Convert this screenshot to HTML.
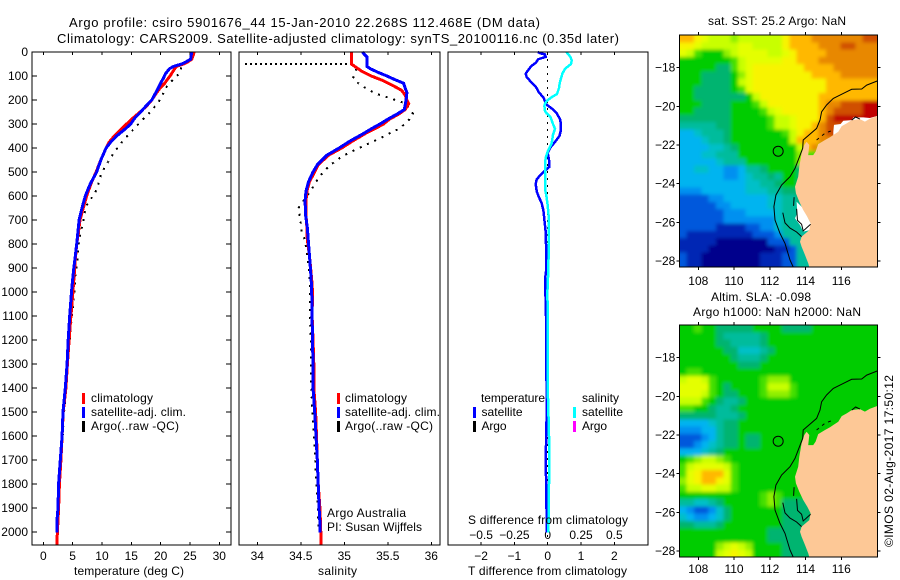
<!DOCTYPE html>
<html>
<head>
<meta charset="utf-8">
<title>Argo profile</title>
<style>
html,body{margin:0;padding:0;background:#fff;width:900px;height:580px;overflow:hidden}
svg{display:block}
text{font-family:"Liberation Sans",sans-serif;font-size:12px;fill:#000}
.crisp{shape-rendering:crispEdges}
</style>
</head>
<body>
<svg id="chart" xmlns="http://www.w3.org/2000/svg" width="900" height="580" viewBox="0 0 900 580">
  <defs>
    <filter id="soften" x="-5%" y="-5%" width="110%" height="110%"><feGaussianBlur stdDeviation="1.8"/></filter>
    <clipPath id="clip-m1"><rect x="679.3" y="35" width="198" height="232"/></clipPath>
    <clipPath id="clip-m2"><rect x="679.3" y="325" width="198" height="232"/></clipPath>
  </defs>
  <rect x="0" y="0" width="900" height="580" fill="#fff"/>

  <text x="69" y="27" textLength="471" lengthAdjust="spacing" style="font-size:13px">Argo profile: csiro 5901676_44 15-Jan-2010 22.268S 112.468E (DM data)</text>
  <text x="57" y="43" textLength="562" lengthAdjust="spacing" style="font-size:13px">Climatology: CARS2009. Satellite-adjusted climatology: synTS_20100116.nc (0.35d later)</text>

  <g id="p1"></g>
  <g id="p2"></g>
  <g id="p3"></g>
  <g id="m1"></g>
  <g id="m2"></g>

  <text x="74" y="575" textLength="110" lengthAdjust="spacing">temperature (deg C)</text>
  <text x="318" y="575" textLength="39" lengthAdjust="spacing">salinity</text>
  <text x="468" y="575" textLength="159" lengthAdjust="spacing">T difference from climatology</text>
  <text x="468" y="524" textLength="160" lengthAdjust="spacing">S difference from climatology</text>

  <g>
    <rect class="crisp" x="82" y="393" width="3" height="11" fill="#f00"/>
    <rect class="crisp" x="82" y="407" width="3" height="11" fill="#00f"/>
    <rect class="crisp" x="82" y="421" width="3" height="11" fill="#000"/>
    <text x="91" y="402" textLength="62" lengthAdjust="spacing">climatology</text>
    <text x="91" y="416" textLength="95" lengthAdjust="spacing">satellite-adj. clim.</text>
    <text x="91" y="430" textLength="88" lengthAdjust="spacing">Argo(..raw -QC)</text>
  </g>
  <g>
    <rect class="crisp" x="337" y="393" width="3" height="11" fill="#f00"/>
    <rect class="crisp" x="337" y="407" width="3" height="11" fill="#00f"/>
    <rect class="crisp" x="337" y="421" width="3" height="11" fill="#000"/>
    <text x="345" y="402" textLength="62" lengthAdjust="spacing">climatology</text>
    <text x="345" y="416" textLength="95" lengthAdjust="spacing">satellite-adj. clim.</text>
    <text x="345" y="430" textLength="88" lengthAdjust="spacing">Argo(..raw -QC)</text>
    <text x="327" y="517" textLength="79" lengthAdjust="spacing">Argo Australia</text>
    <text x="327" y="531" textLength="95" lengthAdjust="spacing">PI: Susan Wijffels</text>
  </g>
  <g>
    <text x="481" y="402" textLength="64" lengthAdjust="spacing">temperature</text>
    <text x="582" y="402" textLength="37" lengthAdjust="spacing">salinity</text>
    <rect class="crisp" x="473" y="407" width="3" height="11" fill="#00f"/>
    <rect class="crisp" x="473" y="421" width="3" height="11" fill="#000"/>
    <rect class="crisp" x="573" y="407" width="3" height="11" fill="#0ff"/>
    <rect class="crisp" x="573" y="421" width="3" height="11" fill="#f0f"/>
    <text x="481.500" y="416" textLength="41" lengthAdjust="spacing">satellite</text>
    <text x="481.500" y="430" textLength="25" lengthAdjust="spacing">Argo</text>
    <text x="582" y="416" textLength="41" lengthAdjust="spacing">satellite</text>
    <text x="582" y="430" textLength="25" lengthAdjust="spacing">Argo</text>
  </g>

  <text x="708" y="25" textLength="138" lengthAdjust="spacing">sat. SST: 25.2 Argo: NaN</text>
  <text x="711" y="301" textLength="100" lengthAdjust="spacing">Altim. SLA: -0.098</text>
  <text x="693" y="316" textLength="168" lengthAdjust="spacing">Argo h1000: NaN h2000: NaN</text>
  <text transform="translate(893,547) rotate(-90)" x="0" y="0" textLength="172" lengthAdjust="spacing">©IMOS 02-Aug-2017 17:50:12</text>
</svg>

<script>
// ---------- profile data ----------
const depthTicks = [0,100,200,300,400,500,600,700,800,900,1000,1100,1200,1300,1400,1500,1600,1700,1800,1900,2000];
const tempTicks = [0,5,10,15,20,25,30];
const salTicks = [34,34.5,35,35.5,36];
const salTickLabels = ['34','34.5','35','35.5','36'];
const tDiffTicks = [-2,-1,0,1,2];
const tDiffLabels = ['\u22122','\u22121','0','1','2'];
const sDiffTicks = [-0.5,-0.25,0,0.25,0.5];
const sDiffLabels = ['\u22120.5','\u22120.25','0','0.25','0.5'];
const lonTicks = [108,110,112,114,116];
const latTicks = [-18,-20,-22,-24,-26,-28];

const climTDepth = [0,10,30,40,50,60,70,100,130,150,170,200,225,250,275,300,325,350,375,400,450,500,550,600,650,700,750,800,850,900,950,1000,1100,1200,1300,1400,1500,1600,1700,1800,1900,2000,2054];
const climT = [25.7,25.6,25.3,24.7,23.9,22.7,22.4,21.6,20.7,19.9,19.3,18.5,17.6,16.5,15.3,14.2,13.1,12.1,11.25,10.7,9.8,9.0,8.1,7.4,6.8,6.25,6.0,5.7,5.5,5.35,5.2,5.05,4.7,4.4,4.1,3.86,3.4,3.2,3.0,2.75,2.6,2.4,2.3];
const satTDepth = [0,30,40,50,60,70,90,110,130,150,170,200,225,250,275,300,325,350,375,400,450,500,550,600,650,700,750,800,850,900,950,1000,1100,1200,1300,1400,1500,1600,1700,1800,1900,1960,2002];
const satT = [25.3,25.1,24.4,23.6,22.2,21.5,20.85,20.45,20,19.6,19.15,18.5,17.5,16.6,15.6,14.9,13.75,12.5,11.5,10.7,9.8,9.1,8,7.16,6.6,6.1,5.9,5.7,5.45,5.2,5,4.8,4.5,4.25,4.05,3.75,3.35,3.2,2.9,2.6,2.5,2.3,2.3];
const argoTDepth = [43,53,88,108,129,154,171,210,251,293,331,372,417,463,504,567,601,622,646,685,706,740,768,810,872,928,976,1050,1100,1200,1300,1400,1500,1600,1700,1800,1900,2000];
const argoT = [24.4,23.6,23.3,22.4,21.6,20.7,20.45,19.6,18.2,16.5,15.05,13.5,12.1,10.9,9.9,9.2,8.5,7.7,7.3,6.9,6.8,6.5,6.25,5.95,5.8,5.45,5.4,5.1,4.85,4.5,4.2,3.9,3.55,3.3,3.05,2.85,2.65,2.4];

const climSDepth = [0,40,50,60,80,100,120,140,160,180,200,215,240,260,280,300,320,340,370,400,430,470,500,540,580,620,680,730,780,850,950,1000,1100,1200,1300,1400,1500,1600,1700,1800,1900,2000,2054];
const climS = [35.08,35.08,35.08,35.12,35.2,35.31,35.45,35.56,35.66,35.7,35.72,35.74,35.7,35.62,35.52,35.45,35.35,35.24,35.1,34.97,34.82,34.7,34.66,34.6,34.57,34.56,34.56,34.57,34.575,34.6,34.625,34.635,34.63,34.64,34.65,34.65,34.67,34.68,34.69,34.7,34.72,34.73,34.73];
const satSDepth = [0,10,20,50,60,70,85,100,115,130,150,170,200,240,260,280,300,320,340,370,400,430,470,500,540,580,620,680,730,780,850,950,1000,1100,1200,1300,1400,1500,1600,1700,1800,1900,1960,2002];
const satS = [35.21,35.23,35.26,35.26,35.26,35.3,35.39,35.49,35.58,35.68,35.7,35.72,35.71,35.69,35.6,35.5,35.41,35.31,35.22,35.07,34.94,34.8,34.69,34.64,34.59,34.56,34.55,34.555,34.575,34.585,34.6,34.62,34.625,34.63,34.635,34.64,34.64,34.66,34.675,34.69,34.7,34.71,34.72,34.72];
const argoSpikeDepth = [50,50];
const argoSpikeS = [33.86,35.07];
const argoSDepth = [50,68,110,130,149,172,186,200,214,239,258,280,318,339,360,388,415,436,471,499,533,575,631,651,686,714,749,776,811,853,894,943,985,1100,1200,1300,1400,1500,1600,1700,1800,1900,2000];
const argoS = [35.07,35.14,35.1,35.16,35.24,35.35,35.47,35.59,35.7,35.75,35.79,35.75,35.64,35.52,35.41,35.24,35.08,34.97,34.84,34.76,34.69,34.62,34.51,34.47,34.49,34.5,34.51,34.54,34.56,34.575,34.59,34.6,34.605,34.605,34.615,34.62,34.62,34.635,34.65,34.665,34.68,34.695,34.705];

const diffTDepth = [0,5,10,20,30,35,45,60,90,105,120,135,150,165,190,205,220,235,255,280,300,330,350,375,400,420,450,480,500,530,550,580,600,630,660,700,750,800,850,900,950,1000,1100,1300,1500,1700,1850,2002];
const diffT = [-0.3,-0.23,-0.08,-0.06,-0.28,-0.31,-0.36,-0.5,-0.66,-0.63,-0.53,-0.43,-0.33,-0.28,-0.13,-0.08,-0.03,0.12,0.27,0.37,0.4,0.39,0.35,0.22,0.07,0,0.04,0.04,-0.13,-0.33,-0.36,-0.33,-0.28,-0.18,-0.13,-0.1,-0.06,-0.05,-0.04,-0.04,-0.08,-0.07,-0.05,-0.04,-0.03,-0.06,-0.04,-0.03];
const diffSDepth = [0,10,20,35,50,70,90,110,130,150,175,185,200,215,225,245,255,270,300,320,345,380,415,440,470,520,570,600,640,700,800,900,1000,1200,1400,1500,1600,1800,2002];
const diffS = [0.14,0.155,0.17,0.18,0.175,0.13,0.11,0.1,0.09,0.085,0.07,0.04,0,-0.02,-0.025,-0.02,-0.01,0.02,0.04,0.055,0.04,0.03,0,-0.015,-0.02,-0.02,-0.02,-0.01,0,0.01,0.0075,0.005,-0.0025,0.0025,0,0.005,0.01,0.01,0.005];

// ---------- map data (one character per cell, index into the colour scale) ----------
const sstRows = [
"eedcbbbabbbbbbdeeefffffffgg",
"ddcbbbbbccbbbbdeeeefffggfff",
"cb9888abccccbbcdeeeefffffff",
"88888889bcccccddeeeffffffff",
"88888779bcdddddddeeeeffffff",
"88877778acddddddddeeeefffff",
"88877778bcddddddddddeeeeeee",
"887777789cddddddddddeeeeeee",
"8877777778bddddddddeeeeeeee",
"88877778889bdddddddeffggghh",
"887777788889bcdddddefgggghh",
"7777777888889bbcdddeghhhhhh",
"6666677888889bbcddefggggggg",
"445666788888889bdeefghggggg",
"444566788888888beeefffggggg",
"444455678888888 8bef9999999".replace(' ',''),
"4445566688888888a9999999999",
"4444456668888888a9999999999",
"44554433466788887777777777",
"44444433456676887777777777",
"44444444455667887777777777",
"33344444455566777777777777",
"22223344444455667666666666",
"22222334444455666666666666",
"22222233344445666666666666",
"22222233333335666666666666",
"22222111122335666666666666",
"21111111112223666666666666",
"11111000000022266666666666",
"11110000000001126666666666",
"21100000000111226666666666",
"21100000000111226666666666"
].map(function(r){ return (r+'666666').slice(0,27); });
const slaRows = [
"889887777788887777888888888",
"888887666667888888888888888",
"888887766667888888888888888",
"888888775556788888888888888",
"888888876667888888888888888",
"888888887778888888888888888",
"899888888888888888888888888",
"bccb98888889aaa888888888888",
"cccc98788889bbb988888888888",
"cccb98778889aaa988888888888",
"bbb987667888888888888888888",
"998876678888888888888888888",
"777776667888888888888888888",
"444456778888888888888888888",
"333446778888888888888888888",
"222346778778888888888888888",
"223456778778888888888888888",
"444567888888888888888888888",
"89abba988888888888888888888",
"9bccccb98888888888888888888",
"9cdeeec98888888888888888888",
"acdeedc98888888888888888888",
"9bbccbb98888888888888888888",
"888888888889a98888888888888",
"665567888889a97777888888888",
"432235788888887777888888888",
"543345788888887777888888888",
"776667888888887777888888888",
"888888888888777777888888888",
"888888888888777777888888888",
"88888abcba88887777888888888",
"88888bcdcb88887777888888888"
];
const colourScale = {
  '0':'#00008c','1':'#0028b4','2':'#0058dc','3':'#0090f0','4':'#00b4f0','5':'#00c0c8','6':'#00bc9c','7':'#00b470',
  '8':'#00cc00','9':'#44e000','a':'#90f000','b':'#c8ff00','c':'#e4ff00','d':'#f8f400','e':'#ffb800','f':'#e88800',
  'g':'#d05000','h':'#c00000','w':'#ffffff'
};

const coastLon = [118.01,117.6,117.32,117.04,116.58,116.3,116.02,115.83,115.55,115.37,115.09,114.71,114.56,114.43,114.15,114.21,114.06,113.93,113.78,113.65,113.59,113.41,113.46,113.65,113.87,114.1,114.28,114.21,113.78,113.69,113.78,113.97,114.15,114.21,118.01];
const coastLat = [-20.5,-20.64,-20.79,-20.66,-20.71,-20.88,-21.02,-21.31,-21.48,-21.6,-21.74,-21.95,-22.34,-22.52,-22.52,-22,-21.83,-22,-22.43,-23.12,-23.64,-24.16,-24.5,-24.93,-25.36,-25.71,-26.05,-26.4,-26.74,-27,-27.26,-27.69,-28.12,-28.31,-28.31];
const isobathLon = [118.01,117.42,117.14,116.58,116.11,115.55,115.18,114.9,114.81,114.62,113.87,113.84,113.59,113.41,113.13,112.66,112.34,112.23,112.29,112.57,112.85,113.13,113.31];
const isobathLat = [-18.69,-18.9,-19.1,-19.12,-19.33,-19.59,-19.93,-20.28,-20.71,-21.14,-21.74,-22.17,-22.78,-23.21,-23.64,-24.07,-24.59,-25.19,-25.88,-26.57,-27.09,-27.95,-28.31];
const sharkBayLon = [112.73,112.85,113.13,113.5,113.78];
const sharkBayLat = [-25.5,-26.03,-26.3,-26.5,-26.74];
const bayInnerLon = [113.5,113.55,113.78,113.87,114.28];
const bayInnerLat = [-25.3,-25.9,-26.1,-26.45,-26.1];
const peninsulaLon = [113.36,113.33];
const peninsulaLat = [-24.7,-25.15];
const reefLon = [116.58,116.8,117.04];
const reefLat = [-20.71,-20.55,-20.66];
const islandLon = [114.62,115.09,115.46];
const islandLat = [-21.74,-21.39,-21.26];
const bayWhiteLon = [113.5,113.54,113.41,113.69,113.87,114.25,114.34,113.87];
const bayWhiteLat = [-24.93,-25.53,-25.79,-26.14,-26.48,-26.4,-26.14,-25.27];
const northWhiteLon = [115.55,115.59,115.96,116.11,116.58,116.67,117.23,117.6,118,118,115.55];
const northWhiteLat = [-21.31,-20.96,-20.91,-20.74,-20.71,-20.57,-20.57,-20.6,-20.5,-21,-21.5];
const profileLon = [112.468];
const profileLat = [-22.268];

// ---------- axis functions ----------
const TOP = 52, BOT = 545;
function yD(d){ return TOP + d*0.24; }
function xT(v){ return 43.3 + v*5.867; }
function xS(v){ return 257.3 + (v-34)*87; }
function xDT(v){ return 547.7 + v*33.33; }
function xDS(v){ return 547.7 + v*133.3; }
const MAP_L = 679.3, MAP_R = 877.3, MAP_H = 232;
function lonX(l){ return 698.3 + (l-108)*17.875; }
function latY(l,top){ return top + 32.7 + (-18-l)*19.33; }

const NS = 'http://www.w3.org/2000/svg';
function mk(parent, tag){
  const e = document.createElementNS(NS, tag);
  parent.appendChild(e);
  return e;
}
function setLine(e,x1,y1,x2,y2){
  e.setAttribute('x1',x1); e.setAttribute('y1',y1); e.setAttribute('x2',x2); e.setAttribute('y2',y2);
  e.setAttribute('stroke','#000'); e.setAttribute('stroke-width','1'); e.setAttribute('class','crisp');
}
function setTxt(e,x,y,s,anchor){
  e.setAttribute('x',x); e.setAttribute('y',y); e.setAttribute('text-anchor',anchor); e.textContent = s;
}
function frame(parent,x,y,w,h){
  const r = mk(parent,'rect');
  
  
  r.setAttribute('x',x); r.setAttribute('y',y); r.setAttribute('width',w); r.setAttribute('height',h);
  r.setAttribute('fill','none'); r.setAttribute('stroke','#000'); r.setAttribute('stroke-width','1'); r.setAttribute('class','crisp');
}
function xAxis(parent,ticks,labels,fx,labelY){
  ticks.forEach(function(t,i){
    const a = mk(parent,'line');
    
    
    setLine(a,fx(t),TOP,fx(t),TOP+3);
    const b = mk(parent,'line');
    
    
    setLine(b,fx(t),BOT-3,fx(t),BOT);
    const l = mk(parent,'text');
    
    
    setTxt(l,fx(t),labelY,labels[i],'middle');
  });
}
function series(parent,depths,vals,fx,col,w,name,dash){
  const p = mk(parent,'polyline');
  
  
  p.setAttribute('points',depths.map(function(d,i){ return fx(vals[i]).toFixed(1)+','+yD(d).toFixed(1); }).join(' '));
  p.setAttribute('fill','none');
  p.setAttribute('stroke',col);
  p.setAttribute('stroke-width',w);
  p.setAttribute('class','crisp');
  if(dash) p.setAttribute('stroke-dasharray',dash);
}

// ---------- panel 1: temperature ----------
const p1 = document.getElementById('p1');
depthTicks.forEach(function(d){
  const a = mk(p1,'line');
  
  
  setLine(a,32,yD(d),37,yD(d));
  const b = mk(p1,'line');
  
  
  setLine(b,226,yD(d),231,yD(d));
  const l = mk(p1,'text');
  
  
  setTxt(l,28,yD(d)+4,String(d),'end');
});
xAxis(p1,tempTicks,tempTicks.map(String),xT,560);
series(p1,argoTDepth,argoT,xT,'#000','2','argo-temperature-line','2 6');
series(p1,climTDepth,climT,xT,'#f00','3','climatology-temperature-line');
series(p1,satTDepth,satT,xT,'#00f','3','satellite-temperature-line');
frame(p1,32,TOP,199,BOT-TOP);

// ---------- panel 2: salinity ----------
const p2 = document.getElementById('p2');
xAxis(p2,salTicks,salTickLabels,xS,560);
series(p2,argoSpikeDepth,argoSpikeS,xS,'#000','2','argo-salinity-spike','2 3');
series(p2,argoSDepth,argoS,xS,'#000','2','argo-salinity-line','2 6');
series(p2,climSDepth,climS,xS,'#f00','3','climatology-salinity-line');
series(p2,satSDepth,satS,xS,'#00f','3','satellite-salinity-line');
frame(p2,239,TOP,201,BOT-TOP);

// ---------- panel 3: differences ----------
const p3 = document.getElementById('p3');
xAxis(p3,tDiffTicks,tDiffLabels,xDT,560);
sDiffTicks.forEach(function(t,i){
  const l = mk(p3,'text');
  
  
  setTxt(l,xDS(t),539,sDiffLabels[i],'middle');
});
const zeroLine = mk(p3,'line');


setLine(zeroLine,xDT(0),TOP,xDT(0),BOT);
zeroLine.setAttribute('stroke-dasharray','2 5');
series(p3,diffTDepth,diffT,xDT,'#00f','2.500','temperature-difference-line');
series(p3,diffSDepth,diffS,xDS,'#0ff','2.500','salinity-difference-line');
frame(p3,448,TOP,200,BOT-TOP);

// ---------- maps ----------
function drawMap(id,rows,top,tickLabelY,showWhite){
  const g = document.getElementById(id);
  const clipBox = mk(g,'g');
  
  
  clipBox.setAttribute('clip-path','url(#clip-'+id+')');
  const grid = mk(clipBox,'g');
  
  
  grid.setAttribute('filter','url(#soften)');
  const cw = (MAP_R-MAP_L)/27, ch = MAP_H/32;
  rows.forEach(function(row,r){
    row.split('').forEach(function(v,c){
      const cell = mk(grid,'rect');
      
      
      const x0 = MAP_L + c*cw - (c===0 ? 10 : 0);
      const y0 = top + r*ch - (r===0 ? 10 : 0);
      const x1 = MAP_L + (c+1)*cw + (c===26 ? 10 : 0);
      const y1 = top + (r+1)*ch + (r===31 ? 10 : 0);
      cell.setAttribute('x',x0.toFixed(2));
      cell.setAttribute('y',y0.toFixed(2));
      cell.setAttribute('width',(x1-x0+0.4).toFixed(2));
      cell.setAttribute('height',(y1-y0+0.4).toFixed(2));
      cell.setAttribute('fill',colourScale[v]);
      cell.setAttribute('class','crisp');
    });
  });
  function poly(lons,lats,fill,name){
    const p = mk(clipBox,'polygon');
    
    
    p.setAttribute('points',lons.map(function(l,i){ return lonX(l).toFixed(1)+','+latY(lats[i],top).toFixed(1); }).join(' '));
    p.setAttribute('fill',fill);
  }
  if(showWhite){
    poly(bayWhiteLon,bayWhiteLat,'#fff','shark-bay-no-data');
    poly(northWhiteLon,northWhiteLat,'#fff','north-coast-no-data');
  }
  poly(coastLon,coastLat,'#fdc896','land');
  function path(lons,lats,name,dash){
    const p = mk(g,'polyline');
    
    
    p.setAttribute('points',lons.map(function(l,i){ return lonX(l).toFixed(1)+','+latY(lats[i],top).toFixed(1); }).join(' '));
    p.setAttribute('fill','none');
    p.setAttribute('stroke','#000');
    p.setAttribute('stroke-width','1');
    if(dash) p.setAttribute('stroke-dasharray',dash);
  }
  path(isobathLon,isobathLat,'isobath-line');
  path(sharkBayLon,sharkBayLat,'shark-bay-outline');
  path(bayInnerLon,bayInnerLat,'shark-bay-inner-outline');
  path(peninsulaLon,peninsulaLat,'peninsula-outline');
  path(reefLon,reefLat,'reef-outline');
  path(islandLon,islandLat,'nearshore-islands','3 4');
  const marker = mk(g,'circle');
  
  
  marker.setAttribute('cx',lonX(profileLon[0]));
  marker.setAttribute('cy',latY(profileLat[0],top)+1);
  marker.setAttribute('r','5');
  marker.setAttribute('fill','none');
  marker.setAttribute('stroke','#000');
  marker.setAttribute('stroke-width','1');
  frame(g,MAP_L,top,MAP_R-MAP_L,MAP_H);
  lonTicks.forEach(function(t){
    const a = mk(g,'line');
    
    
    setLine(a,lonX(t),top-3,lonX(t),top);
    const b = mk(g,'line');
    
    
    setLine(b,lonX(t),top+MAP_H,lonX(t),top+MAP_H+3);
    const l = mk(g,'text');
    
    
    setTxt(l,lonX(t),tickLabelY,String(t),'middle');
  });
  latTicks.forEach(function(t){
    const a = mk(g,'line');
    
    
    setLine(a,MAP_L-3,latY(t,top),MAP_L,latY(t,top));
    const b = mk(g,'line');
    
    
    setLine(b,MAP_R,latY(t,top),MAP_R+3,latY(t,top));
    const l = mk(g,'text');
    
    
    setTxt(l,MAP_L-4,latY(t,top)+4,'\u2212'+Math.abs(t),'end');
  });
}
drawMap('m1',sstRows,35,285,true);
drawMap('m2',slaRows,325,573,false);
</script>
</body>
</html>
